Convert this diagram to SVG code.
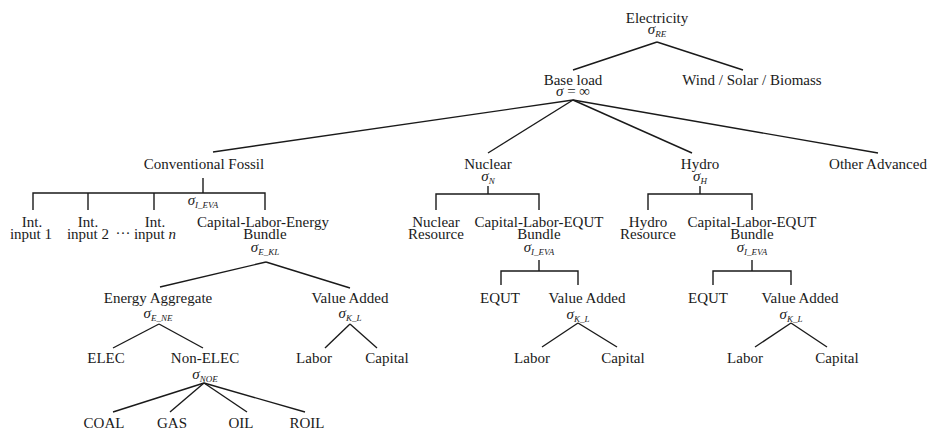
<svg xmlns="http://www.w3.org/2000/svg" width="928" height="431" viewBox="0 0 928 431">
<style>
text{font-family:"Liberation Serif","Times New Roman",serif;font-size:15px;fill:#1a1a1a;text-anchor:middle}
.s{font-style:italic}
.sub{font-size:9px;font-style:italic}
.n{font-style:italic}
#connectors line,#connectors polyline{stroke:#1a1a1a;stroke-width:1.4;fill:none}
</style>
<rect width="928" height="431" fill="#fff"/>
<g id="connectors">
<line x1="657" y1="42" x2="573" y2="70"/>
<line x1="657" y1="42" x2="743" y2="70"/>
<line x1="573" y1="100" x2="213" y2="152"/>
<line x1="573" y1="100" x2="488" y2="153"/>
<line x1="573" y1="100" x2="692" y2="153"/>
<line x1="573" y1="100" x2="878" y2="153"/>
<line x1="203" y1="178" x2="203" y2="193"/>
<polyline points="33,210 33,193 265,193 265,210"/>
<line x1="88" y1="193" x2="88" y2="210"/>
<line x1="154" y1="193" x2="154" y2="210"/>
<line x1="488" y1="186" x2="488" y2="194"/>
<polyline points="436,210 436,194 539,194 539,210"/>
<line x1="700" y1="186" x2="700" y2="194"/>
<polyline points="648,210 648,194 752,194 752,210"/>
<line x1="266" y1="262" x2="160" y2="287"/>
<line x1="266" y1="262" x2="350" y2="288"/>
<line x1="159" y1="324" x2="113" y2="348"/>
<line x1="159" y1="324" x2="203" y2="348"/>
<line x1="204" y1="383" x2="113" y2="412"/>
<line x1="204" y1="383" x2="170" y2="412"/>
<line x1="204" y1="383" x2="247" y2="412"/>
<line x1="204" y1="383" x2="305" y2="412"/>
<line x1="350" y1="324" x2="325" y2="348"/>
<line x1="350" y1="324" x2="377" y2="348"/>
<line x1="539" y1="260" x2="539" y2="271"/>
<polyline points="501,285 501,271 578,271 578,285"/>
<line x1="578" y1="323" x2="542" y2="347"/>
<line x1="578" y1="323" x2="617" y2="347"/>
<line x1="752" y1="260" x2="752" y2="271"/>
<polyline points="713,285 713,271 791,271 791,285"/>
<line x1="791" y1="323" x2="755" y2="347"/>
<line x1="791" y1="323" x2="827" y2="347"/>
</g>
<g id="electricity"><text x="657" y="23">Electricity<tspan x="657" y="34" class="s">σ</tspan><tspan class="sub" dy="3">RE</tspan></text></g>
<g id="baseload"><text x="573" y="85">Base load<tspan x="573" y="96" class="s">σ</tspan> = ∞</text></g>
<g id="renewables"><text x="752" y="85">Wind / Solar / Biomass</text></g>
<g id="fossil"><text x="204" y="169">Conventional Fossil</text><text x="203" y="205"><tspan class="s">σ</tspan><tspan class="sub" dy="3">I_EVA</tspan></text></g>
<g id="nuclear"><text x="488" y="169">Nuclear<tspan x="488" y="181" class="s">σ</tspan><tspan class="sub" dy="3">N</tspan></text></g>
<g id="hydro"><text x="700" y="169">Hydro<tspan x="700" y="181" class="s">σ</tspan><tspan class="sub" dy="3">H</tspan></text></g>
<g id="other"><text x="878" y="169">Other Advanced</text></g>
<g id="int1"><text x="32" y="227">Int.<tspan x="31" y="239">input 1</tspan></text></g>
<g id="int2"><text x="88" y="227">Int.<tspan x="88" y="239">input 2</tspan></text></g>
<g id="dots"><text x="123" y="238">···</text></g>
<g id="intn"><text x="155" y="227">Int.<tspan x="155" y="239">input <tspan class="n">n</tspan></tspan></text></g>
<g id="kle"><text x="263" y="227">Capital-Labor-Energy<tspan x="265" y="239">Bundle</tspan><tspan x="265" y="252" class="s">σ</tspan><tspan class="sub" dy="3">E_KL</tspan></text></g>
<g id="energy"><text x="158" y="303">Energy Aggregate<tspan x="158" y="318" class="s">σ</tspan><tspan class="sub" dy="3">E_NE</tspan></text></g>
<g id="va-fossil"><text x="350" y="303">Value Added<tspan x="350" y="318" class="s">σ</tspan><tspan class="sub" dy="3">K_L</tspan></text></g>
<g id="elec"><text x="106" y="363">ELEC</text></g>
<g id="nonelec"><text x="205" y="363">Non-ELEC<tspan x="205" y="379" class="s">σ</tspan><tspan class="sub" dy="3">NOE</tspan></text></g>
<g id="labor-fossil"><text x="314" y="363">Labor</text></g>
<g id="capital-fossil"><text x="387" y="363">Capital</text></g>
<g id="coal"><text x="104" y="428">COAL</text></g>
<g id="gas"><text x="172" y="428">GAS</text></g>
<g id="oil"><text x="241" y="428">OIL</text></g>
<g id="roil"><text x="307" y="428">ROIL</text></g>
<g id="nuc-res"><text x="436" y="227">Nuclear<tspan x="436" y="239">Resource</tspan></text></g>
<g id="nuc-kle"><text x="539" y="227">Capital-Labor-EQUT<tspan x="539" y="239">Bundle</tspan><tspan x="539" y="252" class="s">σ</tspan><tspan class="sub" dy="3">I_EVA</tspan></text></g>
<g id="nuc-equt"><text x="500" y="303">EQUT</text></g>
<g id="nuc-va"><text x="587" y="303">Value Added<tspan x="578" y="319" class="s">σ</tspan><tspan class="sub" dy="3">K_L</tspan></text></g>
<g id="nuc-labor"><text x="532" y="363">Labor</text></g>
<g id="nuc-capital"><text x="623" y="363">Capital</text></g>
<g id="hyd-res"><text x="648" y="227">Hydro<tspan x="648" y="239">Resource</tspan></text></g>
<g id="hyd-kle"><text x="752" y="227">Capital-Labor-EQUT<tspan x="752" y="239">Bundle</tspan><tspan x="752" y="252" class="s">σ</tspan><tspan class="sub" dy="3">I_EVA</tspan></text></g>
<g id="hyd-equt"><text x="708" y="303">EQUT</text></g>
<g id="hyd-va"><text x="800" y="303">Value Added<tspan x="791" y="319" class="s">σ</tspan><tspan class="sub" dy="3">K_L</tspan></text></g>
<g id="hyd-labor"><text x="745" y="363">Labor</text></g>
<g id="hyd-capital"><text x="837" y="363">Capital</text></g>
</svg>
